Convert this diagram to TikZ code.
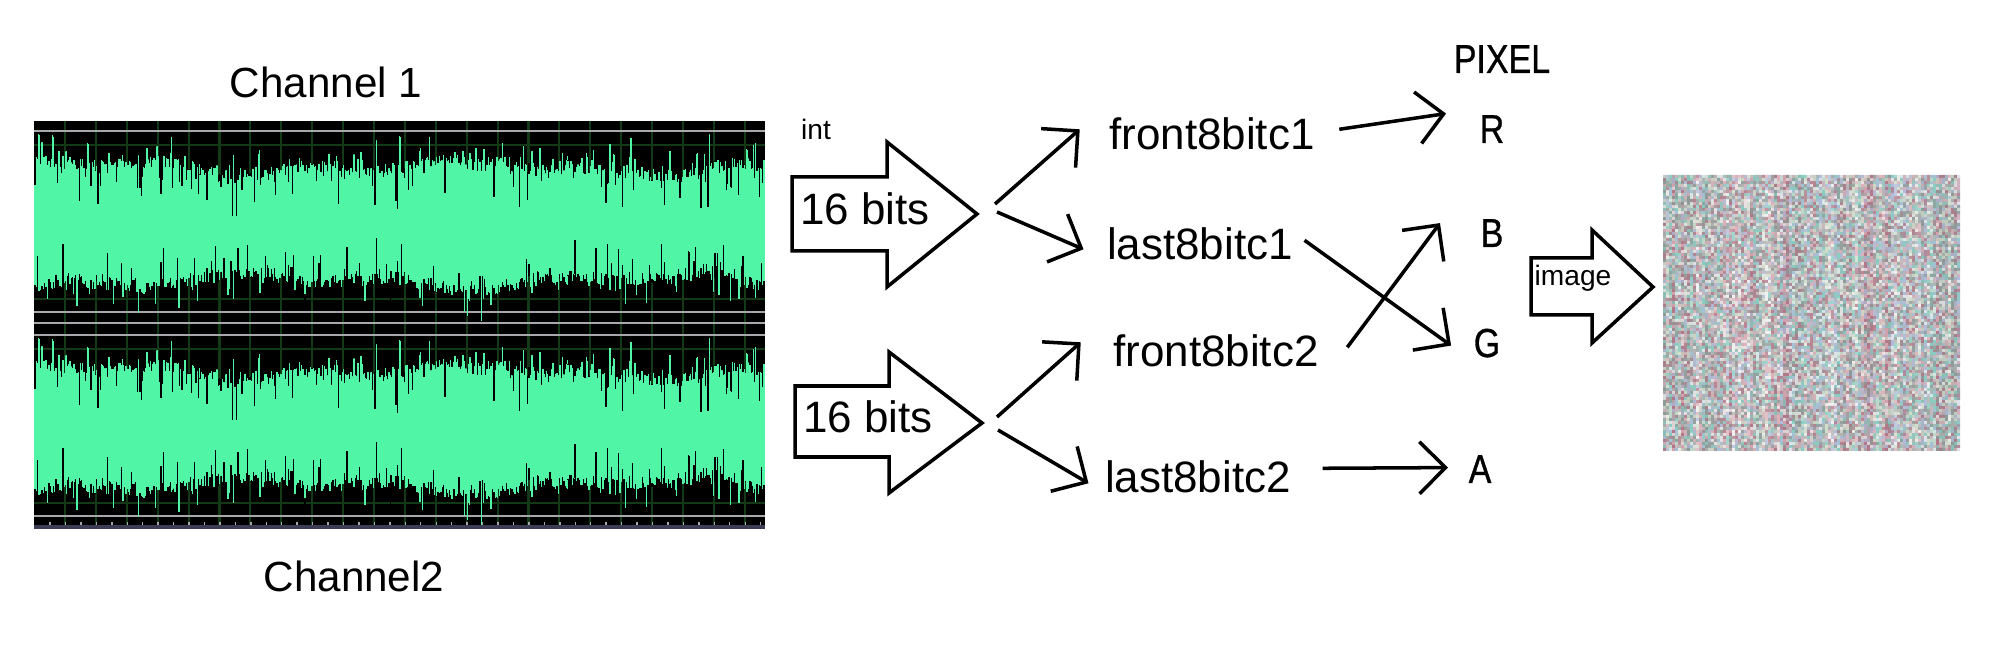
\documentclass[tikz,border=0pt]{standalone}
\usepackage{fontspec}
\usepackage{etoolbox}
\setmainfont{Liberation Sans}
\newfontfamily\capfont[FakeStretch=0.84,FakeBold=0.8]{Liberation Sans}
\usetikzlibrary{arrows.meta,calc}

\definecolor{wavegreen}{HTML}{50F5A5}
\definecolor{gridgreen}{HTML}{123A16}
\definecolor{greyline}{HTML}{A8A8AC}
\definecolor{rulerblue}{HTML}{3C3C55}
\definecolor{nz1}{HTML}{DDB0BA}
\definecolor{nz2}{HTML}{88CCC2}
\definecolor{nz3}{HTML}{F0F0F0}
\definecolor{nz4}{HTML}{B2B2B2}
\definecolor{nz5}{HTML}{B07888}
\definecolor{nz6}{HTML}{B0BCDA}
\definecolor{nz7}{HTML}{8E9A98}
\definecolor{nz8}{HTML}{D2DCCB}

% one channel of the audio wave, #1 = centre line
\newcommand{\drawwave}[1]{%
  \pgfmathsetseed{2718}%
  \draw[wavegreen,line width=0.45pt]
    \foreach \x [evaluate=\x as \au using {0.48+0.05*sin(\x*97)+0.04*sin(\x*251+30)+0.14*rnd+0.30*rnd^12},
                 evaluate=\x as \al using {0.52+0.05*sin(\x*97)+0.04*sin(\x*233+70)+0.14*rnd+0.30*rnd^12}]
      in {0.35,0.364,...,7.64} { (\x,#1+\au) -- (\x,#1-\al) };
  \pgfmathsetseed{2718}%
  \draw[black,line width=0.35pt]
    \foreach \x [evaluate=\x as \au using {0.48+0.05*sin(\x*97)+0.04*sin(\x*251+30)+0.14*rnd+0.30*rnd^12},
                 evaluate=\x as \al using {0.52+0.05*sin(\x*97)+0.04*sin(\x*233+70)+0.14*rnd+0.30*rnd^12},
                 evaluate=\x as \cu using {0.42*pow(frac(abs(sin(\x*1997))*97.3),9)},
                 evaluate=\x as \cl using {0.42*pow(frac(abs(sin(\x*1531+17))*61.7),9)}]
      in {0.35,0.364,...,7.64} { (\x,#1+\au) -- (\x,#1+\au-\cu) (\x,#1-\al) -- (\x,#1-\al+\cl) };
}

\tikzset{
  chan/.style={inner sep=0pt,anchor=base,font=\fontsize{12}{14}\selectfont},
  lbl/.style={inner sep=0pt,anchor=base,font=\fontsize{12.5}{15}\selectfont},
  letter/.style={inner sep=0pt,anchor=base,font=\capfont\fontsize{11.5}{14}\selectfont},
  note/.style={inner sep=0pt,anchor=base,font=\fontsize{8}{10}\selectfont},
  con/.style={line width=1pt,-{Straight Barb[length=0.26cm,width=0.52cm]}},
  blockarrow/.style={draw,line width=1pt,fill=white,line join=miter},
}

\begin{document}
\begin{tikzpicture}
    \useasboundingbox (0,0) rectangle (20,6.67);
    \fill[white] (0,0) rectangle (20,6.67);

    % audio panel
    \fill[black] (0.34,1.38) rectangle (7.65,5.46);
    \foreach \k in {0,...,22}
        \draw[gridgreen,line width=0.6pt] (0.65+0.309*\k,1.42) -- (0.65+0.309*\k,5.46);
    \foreach \y in {5.22,3.68,3.18,1.64}
        \draw[gridgreen,line width=0.6pt] (0.34,\y) -- (7.65,\y);
    \foreach \y in {5.36,3.55,3.44,3.32,1.51}
        \draw[greyline,line width=0.7pt] (0.34,\y) -- (7.65,\y);
    \drawwave{4.45}
    \drawwave{2.41}
    \fill[rulerblue] (0.34,1.38) rectangle (7.65,1.42);
    \foreach \k in {0,...,46}
        \draw[greyline,line width=0.4pt] (0.50+0.1545*\k,1.42) -- (0.50+0.1545*\k,1.445);

    \node[chan] (ch1) at (3.26,5.69) {Channel 1};
    \node[chan] (ch2) at (3.54,0.75) {Channel2};

    % 16 bit arrows
    \draw[blockarrow] (7.92,4.90) -- (8.87,4.90) -- (8.87,5.25) -- (9.77,4.53)
        -- (8.87,3.80) -- (8.87,4.16) -- (7.92,4.16) -- cycle;
    \coordinate (tip1) at (9.77,4.53);
    \draw[blockarrow] (7.95,2.81) -- (8.89,2.81) -- (8.89,3.15) -- (9.82,2.44)
        -- (8.89,1.74) -- (8.89,2.10) -- (7.95,2.10) -- cycle;
    \coordinate (tip2) at (9.82,2.44);
    \node[note] (int) at (8.16,5.27) {int};
    \node[lbl] (bits1) at (8.65,4.42) {16 bits};
    \node[lbl] (bits2) at (8.68,2.34) {16 bits};

    % bytes
    \node[lbl] (f1) at (12.12,5.17) {front8bitc1};
    \node[lbl] (l1) at (12.00,4.07) {last8bitc1};
    \node[lbl] (f2) at (12.16,3.00) {front8bitc2};
    \node[lbl] (l2) at (11.98,1.74) {last8bitc2};

    % pixel
    \node[letter] (pix) at (15.02,5.94) {PIXEL};
    \node[letter] (R) at (14.92,5.24) {R};
    \node[letter] (B) at (14.92,4.20) {B};
    \node[letter] (G) at (14.87,3.10) {G};
    \node[letter] (A) at (14.80,1.84) {A};

    \draw[con] ($(tip1)+(0.18,0.10)$) -- ($(f1.west)+(-0.29,0.05)$);
    \draw[con] ($(tip1)+(0.20,0.02)$) -- ($(l1.west)+(-0.23,-0.05)$);
    \draw[con] ($(tip2)+(0.15,0.06)$) -- ($(f2.west)+(-0.32,0.09)$);
    \draw[con] ($(tip2)+(0.16,-0.07)$) -- ($(l2.west)+(-0.16,-0.06)$);

    \draw[con] ($(f1.east)+(0.24,0.05)$) -- ($(R.west)+(-0.33,0.155)$);
    \draw[con] ($(l1.east)+(0.11,0.04)$) -- ($(G.west)+(-0.22,-0.025)$);
    \draw[con] ($(f2.east)+(0.28,0.04)$) -- ($(B.west)+(-0.40,0.10)$);
    \draw[con] ($(l2.east)+(0.31,0.09)$) -- ($(A.west)+(-0.20,0.015)$);

    % image arrow
    \draw[blockarrow] (15.31,4.09) -- (15.92,4.09) -- (15.92,4.37) -- (16.53,3.80)
        -- (15.92,3.24) -- (15.92,3.52) -- (15.31,3.52) -- cycle;
    \node[note] (img) at (15.73,3.81) {image};

    % noise picture, column by column, one path per colour
    \pgfmathsetseed{31415}
    \foreach \i in {0,...,98}{
        \foreach \k in {1,...,8}{\csgdef{nzp\k}{}}
        \foreach \j in {0,...,91}{
            \pgfmathrandominteger{\nzc}{1}{8}
            \csxappto{nzp\nzc}{\noexpand\pgfpathrectangle{\noexpand\pgfpointxy{16.63+0.03*\i}{2.16+0.03*\j}}{\noexpand\pgfpointxy{0.031}{0.031}}}
        }
        \foreach \k in {1,...,8}{
            \begin{pgfscope}
            \pgfsetfillcolor{nz\k}
            \csname nzp\k\endcsname
            \pgfusepath{fill}
            \end{pgfscope}
        }
    }
    \foreach \i [evaluate=\i as \px using 16.63+0.03*\i] in {0,...,98}{
        \pgfmathrandominteger{\nzc}{1}{8}
        \fill[nz\nzc,opacity=0.25] (\px,2.16) rectangle ++(0.03,2.76);
    }
\end{tikzpicture}
\end{document}
